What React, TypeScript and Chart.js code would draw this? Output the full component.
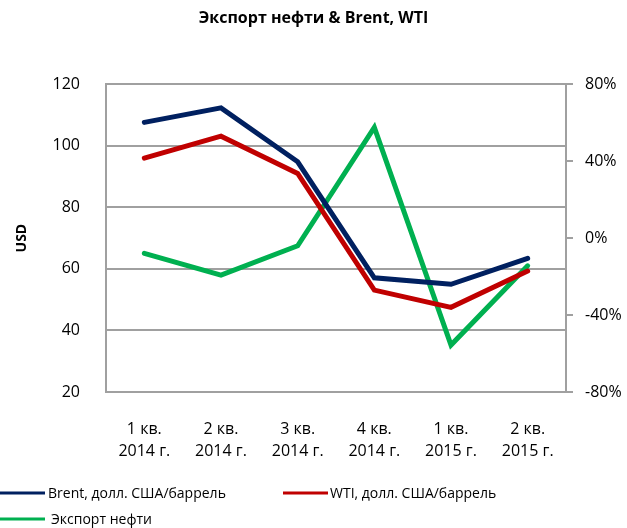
import React, { useEffect, useRef } from "react";
import { Chart, registerables } from "chart.js";

Chart.register(...registerables);

const categories: string[][] = [
  ["1 кв.", "2014 г."],
  ["2 кв.", "2014 г."],
  ["3 кв.", "2014 г."],
  ["4 кв.", "2014 г."],
  ["1 кв.", "2015 г."],
  ["2 кв.", "2015 г."],
];
const brent = [107.6, 112.3, 94.8, 57.1, 55.0, 63.4];
const wti = [96.0, 103.1, 91.0, 53.1, 47.5, 59.3];
const exportOil = [-7.9, -19.2, -4.0, 57.5, -55.6, -14.4];

const seriesNames = ["Brent, долл. США/баррель", "WTI, долл. США/баррель", "Экспорт нефти"];
const seriesColors = ["#002060", "#C00000", "#00B050"];

const FONT = "'Open Sans', sans-serif";
const GRID = "#a0a0a0";

const legendPlugin = {
  id: "customLegend",
  afterDraw(chart: any) {
    const ctx = chart.ctx;
    const items = [
      { x: 0, y: 493, tx: 48 },
      { x: 283, y: 493, tx: 330 },
      { x: 0, y: 519, tx: 51 },
    ];
    ctx.save();
    items.forEach((it, i) => {
      ctx.strokeStyle = seriesColors[i];
      ctx.lineWidth = 3;
      ctx.beginPath();
      ctx.moveTo(it.x, it.y);
      ctx.lineTo(it.x + 45, it.y);
      ctx.stroke();
      ctx.fillStyle = "#000";
      ctx.font = `14px ${FONT}`;
      ctx.textBaseline = "middle";
      ctx.textAlign = "left";
      ctx.fillText(seriesNames[i], it.tx, it.y + 1);
    });
    ctx.restore();
  },
};

export default function App() {
  const ref = useRef<HTMLCanvasElement | null>(null);
  useEffect(() => {
    document.body.style.margin = "0";
    const chart = new Chart(ref.current as HTMLCanvasElement, {
      type: "line",
      data: {
        labels: categories,
        datasets: [
          {
            label: seriesNames[0],
            data: brent,
            borderColor: seriesColors[0],
            backgroundColor: seriesColors[0],
            borderWidth: 5,
            pointRadius: 0,
            yAxisID: "y",
            borderCapStyle: "round",
          },
          {
            label: seriesNames[1],
            data: wti,
            borderColor: seriesColors[1],
            backgroundColor: seriesColors[1],
            borderWidth: 5,
            pointRadius: 0,
            yAxisID: "y",
            borderCapStyle: "round",
          },
          {
            label: seriesNames[2],
            data: exportOil,
            borderColor: seriesColors[2],
            backgroundColor: seriesColors[2],
            borderWidth: 5,
            pointRadius: 0,
            yAxisID: "y1",
            borderCapStyle: "round",
          },
        ],
      },
      options: {
        responsive: false,
        animation: false,
        layout: { padding: { top: 0, bottom: 56, left: 0, right: 0 } },
        plugins: {
          legend: { display: false },
          tooltip: { enabled: false },
          title: {
            display: true,
            text: "Экспорт нефти & Brent, WTI",
            color: "#000",
            font: { family: FONT, size: 16, weight: "bold", lineHeight: 1.2 },
            padding: { top: 9, bottom: 56 },
          },
        },
        scales: {
          x: {
            offset: true,
            grid: { display: false },
            border: { display: true, color: GRID, width: 2 },
            ticks: {
              color: "#000",
              font: { family: FONT, size: 16, lineHeight: 1.4 },
              padding: 18,
              maxRotation: 0,
              autoSkip: false,
            },
            afterFit: (s: any) => {
              s.height = 80;
            },
          },
          y: {
            position: "left",
            min: 20,
            max: 120,
            grid: { color: GRID, lineWidth: 2, drawTicks: false },
            border: { display: true, color: GRID, width: 2 },
            ticks: {
              stepSize: 20,
              color: "#000",
              font: { family: FONT, size: 16 },
              padding: 26,
            },
            title: {
              display: true,
              text: "USD",
              color: "#000",
              font: { family: FONT, size: 14, weight: "bold" },
              padding: { top: 14, bottom: 0 },
            },
            afterFit: (s: any) => {
              s.width = 106;
            },
          },
          y1: {
            position: "right",
            min: -80,
            max: 80,
            grid: { drawOnChartArea: false, color: GRID, lineWidth: 2, drawTicks: true, tickLength: 7 },
            border: { display: true, color: GRID, width: 2 },
            ticks: {
              stepSize: 40,
              color: "#000",
              font: { family: FONT, size: 16 },
              padding: 12,
              callback: (v: any) => `${v}%`,
            },
            afterFit: (s: any) => {
              s.width = 61;
            },
          },
        },
      },
      plugins: [legendPlugin],
    });
    return () => chart.destroy();
  }, []);
  return (
    <div style={{ position: "fixed", left: 0, top: 0, width: 627, height: 528 }}>
      <canvas ref={ref} width={627} height={528} />
    </div>
  );
}
